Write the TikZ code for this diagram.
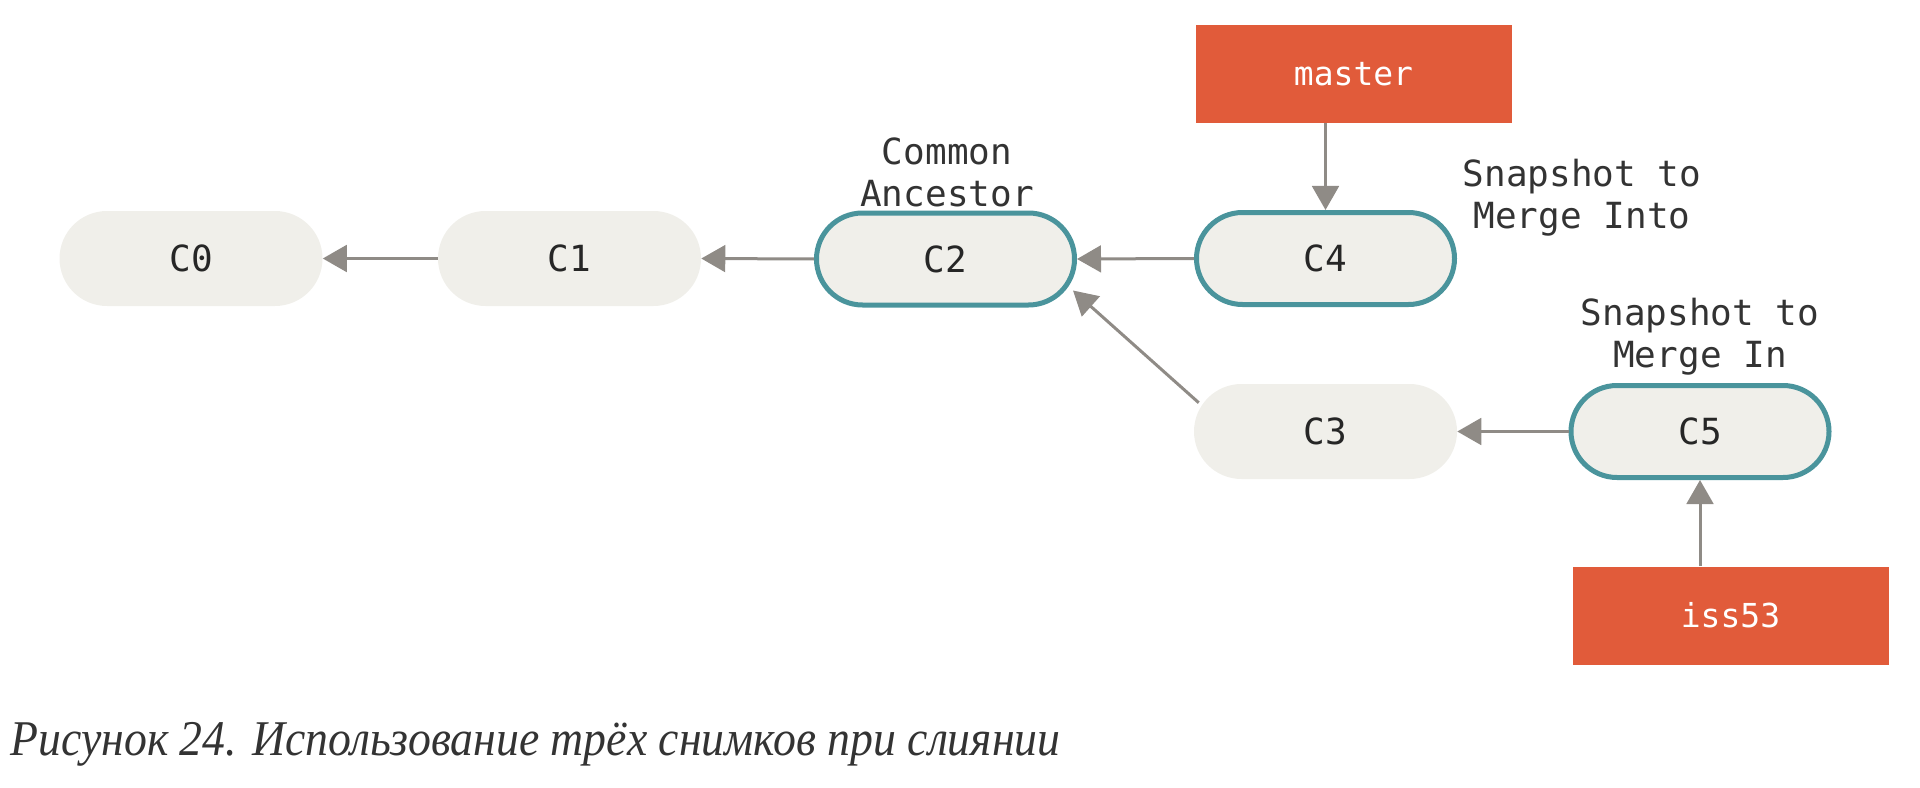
\documentclass[tikz,border=0pt]{standalone}
\usepackage{fontspec}
\setmainfont{Liberation Serif}
\newfontfamily\monof{DejaVu Sans Mono}
\newfontfamily\capf[FakeStretch=0.915]{Liberation Serif}
\usetikzlibrary{arrows.meta,calc}
\definecolor{teal1}{HTML}{4A949C}
\definecolor{cfill}{HTML}{F0EFEA}
\definecolor{bred}{HTML}{E15B3A}
\definecolor{agray}{HTML}{8F8B86}
\definecolor{tdark}{HTML}{333333}
\tikzset{
  commit/.style={fill=cfill, minimum width=197.25pt, minimum height=71.25pt, rounded corners=35.6pt,
    inner sep=0pt, font=\monof\fontsize{27}{31.5}\selectfont, text=black!85},
  headcommit/.style={commit, draw=teal1, line width=3.75pt, minimum width=193.5pt, minimum height=69pt, rounded corners=34.5pt},
  branch/.style={fill=bred, minimum width=237pt, minimum height=73.5pt, inner sep=0pt,
    font=\monof\fontsize{24.75}{29}\selectfont, text=white},
  note/.style={align=center, inner sep=0pt, font=\monof\fontsize{27}{31.5}\selectfont, text=tdark},
  conn/.style={draw=agray, line width=2.25pt, -{Triangle[length=18pt,width=20pt]}}
}
\begin{document}
\begin{tikzpicture}[x=0.75pt,y=-0.75pt]
\useasboundingbox (0,0) rectangle (1920,788);
\node[commit] (C0) at (191,258.5) {C0};
\node[commit] (C1) at (569.5,258.5) {C1};
\node[headcommit] (C2) at (945.5,259) {C2};
\node[headcommit] (C4) at (1325.5,258.5) {C4};
\node[commit] (C3) at (1325.5,431.5) {C3};
\node[headcommit] (C5) at (1700,431.5) {C5};
\node[branch] (master) at (1353.5,74) {master};
\node[branch] (iss53) at (1730.5,615.5) {iss53};
\node[note] (anc) at (947,172) {Common\\Ancestor};
\node[note] (into) at (1582,198) {Snapshot to\\Merge Into};
\node[note] (in) at (1700,337) {Snapshot to\\Merge In};
\node[anchor=base west, inner sep=0pt, text=tdark, font=\capf\itshape\fontsize{37.5}{42}\selectfont] (cap) at (10,755)
  {Рисунок 24. Использование трёх снимков при слиянии};
\draw[conn] (C1.west) -- (C0.east);
\draw[conn] (C2.west) -- (C1.east);
\draw[conn] (C4.west) -- (C2.east);
\draw[conn] (C5.west) -- (C3.east);
\coordinate (d1) at ($(C3.north west)+(5,19)$);
\coordinate (d2) at ($(C2.south east)+(-4,-17)$);
\draw[conn] (d1) -- (d2);
\draw[conn] (master.south -| C4.north) -- (C4.north);
\draw[conn] (iss53.north -| C5.south) -- (C5.south);
\end{tikzpicture}
\end{document}
